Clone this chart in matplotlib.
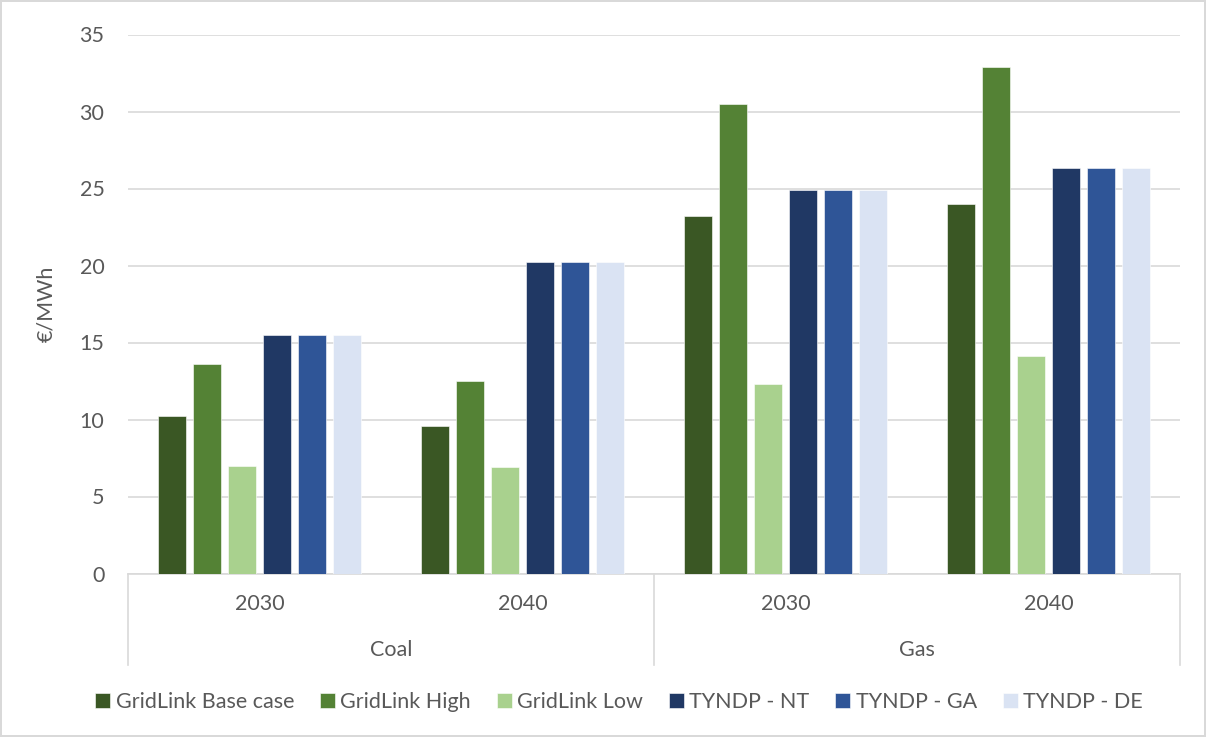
import numpy as np
import matplotlib
matplotlib.use('Agg')
import matplotlib.pyplot as plt
from matplotlib.lines import Line2D

plt.rcParams['font.family'] = ['Lato', 'DejaVu Sans']

years = ['2030', '2040', '2030', '2040']
fuels = ['Coal', 'Gas']
series = ['GridLink Base case', 'GridLink High', 'GridLink Low',
          'TYNDP - NT', 'TYNDP - GA', 'TYNDP - DE']
base_case = [10.2, 9.6, 23.2, 24.0]
high = [13.6, 12.5, 30.5, 32.9]
low = [7.0, 6.9, 12.3, 14.1]
tyndp_nt = [15.5, 20.2, 24.9, 26.3]
tyndp_ga = [15.5, 20.2, 24.9, 26.3]
tyndp_de = [15.5, 20.2, 24.9, 26.3]

values = [base_case, high, low, tyndp_nt, tyndp_ga, tyndp_de]
colors = ['#3A5724', '#548235', '#A9D18E', '#203864', '#2F5597', '#DAE3F3']
txt = '#595959'
fs = 15.5

fig = plt.figure(figsize=(12.06, 7.37), dpi=100)
fig.patch.set_edgecolor('#D9D9D9')
fig.patch.set_linewidth(1.5)
ax = fig.add_axes([128 / 1206, 1 - 573.5 / 737, 1052 / 1206, 539 / 737])

x = np.arange(len(years))
step = 0.133
width = 0.107
for i, (name, vals, c) in enumerate(zip(series, values, colors)):
    ax.bar(x + (i - 2.5) * step, vals, width, color=c, label=name,
           edgecolor='white', linewidth=0.4, zorder=3)

ax.set_xlim(-0.5, 3.5)
ax.set_ylim(0, 35)
ax.set_yticks(range(0, 36, 5))
ax.yaxis.grid(True, color='#D9D9D9', linewidth=1.2, zorder=0)
ax.tick_params(axis='y', length=0, labelsize=fs, labelcolor=txt, pad=17)
ax.tick_params(axis='x', length=0, labelbottom=False)
for s in ['top', 'right', 'left']:
    ax.spines[s].set_visible(False)
ax.spines['bottom'].set_color('#D9D9D9')
ax.spines['bottom'].set_linewidth(1.2)
ax.set_ylabel('€/MWh', fontsize=fs, color=txt)
ax.yaxis.set_label_coords(-(128 - 56.5) / 1052, 0.5)

# two-level category axis
tr = ax.get_xaxis_transform()
for xi, yr in zip(x, years):
    ax.text(xi, -0.057, yr, transform=tr, ha='center', va='center',
            fontsize=fs, color=txt)
for j, fuel in enumerate(fuels):
    ax.text(2 * j + 0.5, -0.142, fuel, transform=tr, ha='center', va='center',
            fontsize=fs, color=txt)
for xs in [-0.5, 1.5, 3.5]:
    ax.add_line(Line2D([xs, xs], [0, -0.17], transform=tr, color='#D9D9D9',
                       linewidth=1.2, clip_on=False))

handles, labels = ax.get_legend_handles_labels()
fig.legend(handles, labels, loc='center', bbox_to_anchor=(619 / 1206, 1 - 702 / 737),
           ncol=6, frameon=False, fontsize=fs, labelcolor=txt,
           handlelength=0.7, handleheight=0.7, handletextpad=0.25,
           columnspacing=1.2)

fig.savefig('out.png', dpi=100)
